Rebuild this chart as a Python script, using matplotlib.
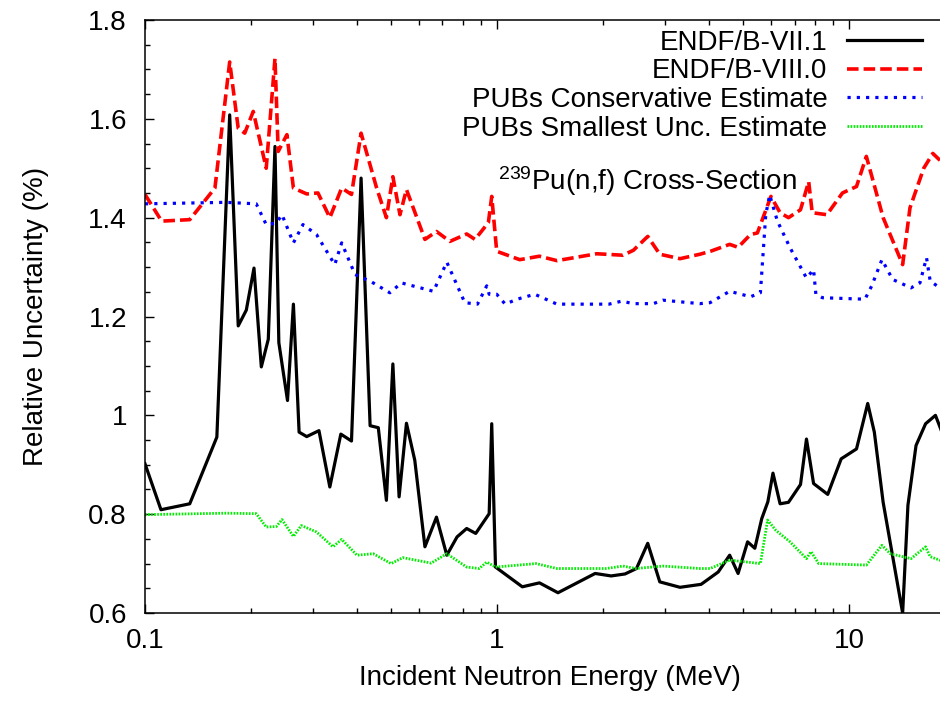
import matplotlib
matplotlib.use("Agg")
import matplotlib.pyplot as plt
from matplotlib.ticker import FixedLocator, FuncFormatter, NullFormatter
import numpy as np

plt.rcParams['font.family'] = ['Liberation Sans', 'DejaVu Sans']
plt.rcParams['mathtext.fontset'] = 'custom'
plt.rcParams['mathtext.rm'] = 'Liberation Sans'
plt.rcParams['mathtext.it'] = 'Liberation Sans:italic'

# ENDF/B-VII.1
e_vii = [0.1, 0.111, 0.134, 0.160, 0.174, 0.184, 0.194, 0.204, 0.214, 0.224, 0.234, 0.240,
         0.254, 0.264, 0.274, 0.288, 0.312, 0.335, 0.36, 0.386, 0.411, 0.436, 0.46, 0.485,
         0.506, 0.527, 0.553, 0.584, 0.624, 0.673, 0.72, 0.77, 0.82, 0.87, 0.95, 0.966, 0.99,
         1.18, 1.32, 1.49, 1.9, 2.11, 2.31, 2.49, 2.68, 2.90, 3.31, 3.8, 4.25, 4.58, 4.84,
         5.15, 5.4, 5.65, 5.88, 6.08, 6.37, 6.73, 7.28, 7.57, 7.93, 8.7, 9.5, 10.5, 11.3,
         11.8, 12.5, 14.2, 14.7, 15.5, 16.5, 17.6, 18.5, 20]
u_vii = [0.902, 0.809, 0.821, 0.956, 1.608, 1.181, 1.213, 1.298, 1.098, 1.154, 1.544, 1.147,
         1.03, 1.225, 0.966, 0.957, 0.969, 0.855, 0.962, 0.948, 1.48, 0.979, 0.975, 0.828,
         1.104, 0.835, 0.984, 0.909, 0.734, 0.794, 0.717, 0.754, 0.771, 0.761, 0.801, 0.983,
         0.693, 0.653, 0.661, 0.641, 0.68, 0.675, 0.679, 0.69, 0.741, 0.663, 0.652, 0.658,
         0.683, 0.717, 0.68, 0.744, 0.731, 0.791, 0.825, 0.883, 0.821, 0.824, 0.86, 0.952,
         0.862, 0.84, 0.912, 0.932, 1.024, 0.966, 0.824, 0.60, 0.818, 0.939, 0.983, 1.0,
         0.96, 0.93]

# ENDF/B-VIII.0
e_viii = [0.1, 0.1115, 0.134, 0.158, 0.174, 0.184, 0.192, 0.203, 0.221, 0.234, 0.239, 0.253,
          0.264, 0.288, 0.310, 0.335, 0.362, 0.386, 0.411, 0.455, 0.485, 0.506, 0.530, 0.553,
          0.624, 0.673, 0.735, 0.82, 0.866, 0.945, 0.966, 0.998, 1.16, 1.32, 1.48, 1.92, 2.28,
          2.44, 2.68, 2.90, 3.31, 3.77, 4.04, 4.58, 4.84, 5.25, 5.49, 6.0, 6.37, 6.73, 7.28,
          7.68, 7.86, 8.65, 9.58, 10.5, 11.2, 12.5, 14.2, 14.9, 16.3, 17.3, 18.5, 20]
u_viii = [1.447, 1.393, 1.396, 1.46, 1.715, 1.581, 1.571, 1.615, 1.50, 1.722, 1.534, 1.568,
          1.46, 1.448, 1.45, 1.40, 1.46, 1.447, 1.571, 1.46, 1.40, 1.483, 1.406, 1.457,
          1.356, 1.372, 1.352, 1.367, 1.356, 1.39, 1.443, 1.332, 1.315, 1.322, 1.313, 1.327,
          1.324, 1.334, 1.362, 1.326, 1.317, 1.326, 1.332, 1.346, 1.34, 1.366, 1.369, 1.443,
          1.41, 1.40, 1.416, 1.473, 1.41, 1.406, 1.45, 1.463, 1.524, 1.40, 1.305, 1.42, 1.50,
          1.53, 1.51, 1.49]

# PUBs conservative estimate
e_cons = [0.1, 0.17, 0.207, 0.221, 0.236, 0.245, 0.264, 0.281, 0.307, 0.346, 0.362, 0.395,
          0.44, 0.496, 0.535, 0.66, 0.72, 0.81, 0.88, 0.935, 0.95, 0.998, 1.055, 1.14, 1.28,
          1.48, 2.08, 2.26, 2.44, 2.78, 2.96, 3.77, 4.03, 4.58, 5.25, 5.6, 5.8, 5.95, 6.26,
          6.8, 7.57, 7.93, 8.05, 8.4, 11.1, 11.6, 12.4, 13.3, 15.0, 15.9, 16.6, 17.0, 18.1, 20]
u_cons = [1.428, 1.431, 1.428, 1.386, 1.389, 1.406, 1.349, 1.386, 1.366, 1.305, 1.349, 1.285,
          1.27, 1.248, 1.268, 1.251, 1.31, 1.228, 1.225, 1.262, 1.245, 1.245, 1.225, 1.235,
          1.245, 1.225, 1.225, 1.231, 1.226, 1.226, 1.233, 1.226, 1.228, 1.251, 1.24, 1.248,
          1.406, 1.446, 1.393, 1.339, 1.278, 1.295, 1.245, 1.238, 1.235, 1.262, 1.315, 1.275,
          1.258, 1.268, 1.319, 1.272, 1.258, 1.25]

# PUBs smallest uncertainty estimate
e_small = [0.1, 0.17, 0.207, 0.221, 0.236, 0.245, 0.264, 0.278, 0.307, 0.342, 0.362, 0.40,
           0.445, 0.50, 0.54, 0.65, 0.72, 0.82, 0.89, 0.935, 0.99, 1.29, 1.48, 2.04, 2.28,
           2.48, 2.96, 3.77, 4.03, 4.58, 5.6, 5.87, 6.2, 6.8, 7.57, 7.8, 8.2, 11.2, 12.4, 13.1,
           15.0, 16.5, 17.0, 18.1, 20]
u_small = [0.799, 0.802, 0.801, 0.774, 0.775, 0.789, 0.755, 0.777, 0.764, 0.734, 0.749, 0.717,
           0.72, 0.70, 0.712, 0.701, 0.72, 0.693, 0.69, 0.703, 0.693, 0.70, 0.69, 0.69, 0.695,
           0.69, 0.695, 0.69, 0.69, 0.707, 0.70, 0.788, 0.767, 0.744, 0.71, 0.724, 0.70, 0.697,
           0.737, 0.72, 0.71, 0.734, 0.714, 0.707, 0.70]

labels = ["ENDF/B-VII.1", "ENDF/B-VIII.0", "PUBs Conservative Estimate",
          "PUBs Smallest Unc. Estimate"]
y_ticks = [0.6, 0.8, 1.0, 1.2, 1.4, 1.6, 1.8]
x_ticks = [0.1, 1, 10]

fig = plt.figure(figsize=(9.4, 7.01), dpi=100)
ax = fig.add_axes([145 / 940, 88 / 701, 810 / 940, 593 / 701])

ax.plot(e_vii, u_vii, '-', color='black', lw=2.3, label=labels[0])
ax.plot(e_viii, u_viii, color='#ff0000', lw=2.6, dashes=(3.2, 1.4), label=labels[1])
ax.plot(e_cons, u_cons, color='#0000ff', lw=2.3, dashes=(1.0, 1.9), label=labels[2])
ax.plot(e_small, u_small, color='#00ee00', lw=2.0, dashes=(0.6, 0.5), label=labels[3])

ax.set_xscale('log')
ax.set_xlim(0.1, 20)
ax.set_ylim(0.6, 1.8)
ax.xaxis.set_major_locator(FixedLocator(x_ticks))
ax.xaxis.set_major_formatter(FuncFormatter(lambda v, p: '%g' % v))
ax.xaxis.set_minor_formatter(NullFormatter())
ax.yaxis.set_major_locator(FixedLocator(y_ticks))
ax.yaxis.set_minor_locator(FixedLocator(np.arange(0.6, 1.81, 0.05)))
ax.yaxis.set_major_formatter(FuncFormatter(lambda v, p: '%g' % round(v, 2)))
ax.tick_params(which='both', direction='in', top=True, right=True, labelsize=20,
               width=1.0, color='black')
ax.tick_params(which='major', length=6.5)
ax.tick_params(which='minor', length=3.3)
ax.tick_params(axis='x', which='major', pad=11)
ax.tick_params(axis='y', which='major', pad=13)
for s in ax.spines.values():
    s.set_linewidth(1.1)

ax.set_xlabel("Incident Neutron Energy (MeV)", fontsize=20, labelpad=8)
ax.set_ylabel("Relative Uncertainty (%)", fontsize=20, labelpad=28)

ax.legend(loc='upper right', bbox_to_anchor=(922 / 940, 1 - 30 / 701),
          bbox_transform=fig.transFigure, frameon=False, markerfirst=False,
          fontsize=20, handlelength=2.7, labelspacing=0.09, handletextpad=0.7,
          borderaxespad=0, borderpad=0)

fig.text(797 / 940, 1 - 190 / 701, r"$^{239}$Pu(n,f) Cross-Section", fontsize=20,
         ha='right', va='baseline')

fig.savefig("out.png", dpi=100)
